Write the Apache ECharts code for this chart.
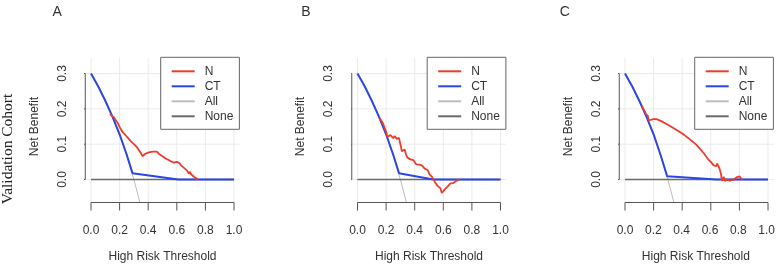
<!DOCTYPE html>
<html><head><meta charset="utf-8">
<script src="https://cdn.jsdelivr.net/npm/echarts@6/dist/echarts.min.js"></script>
<style>html,body{margin:0;padding:0;background:#fff}#c{width:778px;height:265px}</style>
</head><body><div id="c"></div><script>
// ---------- data ----------
const panelLabels = ['A', 'B', 'C'];
const seriesNames = ['N', 'CT', 'All', 'None'];
const xTicks = [0, 0.2, 0.4, 0.6, 0.8, 1.0];
const yTicks = [0, 0.1, 0.2, 0.3];

const allX = [0, 0.05, 0.1, 0.15, 0.2, 0.25, 0.3, 0.35];
const allY = [0.3, 0.263, 0.222, 0.176, 0.125, 0.067, 0.0, -0.077];
const noneX = [0, 1];
const noneY = [0, 0];

const ctX_A = [0, 0.05, 0.1, 0.15, 0.2, 0.25, 0.29, 0.61, 1.0];
const ctY_A = [0.3, 0.264, 0.223, 0.178, 0.128, 0.07, 0.018, 0, 0];
const ctX_B = [0, 0.05, 0.1, 0.15, 0.2, 0.25, 0.29, 0.53, 1.0];
const ctY_B = [0.3, 0.264, 0.223, 0.178, 0.128, 0.07, 0.018, 0, 0];
const ctX_C = [0, 0.05, 0.1, 0.15, 0.2, 0.25, 0.295, 0.64, 1.0];
const ctY_C = [0.3, 0.264, 0.223, 0.178, 0.128, 0.068, 0.009, 0, 0];

const nX_A = [0.133,0.145,0.16,0.17,0.18,0.19,0.2,0.21,0.22,0.23,0.24,0.25,0.26,0.27,0.28,0.29,0.3,0.31,0.32,0.33,0.34,0.35,0.36,0.37,0.38,0.39,0.4,0.41,0.42,0.43,0.44,0.45,0.46,0.47,0.48,0.49,0.5,0.51,0.52,0.53,0.54,0.55,0.56,0.57,0.58,0.59,0.6,0.61,0.62,0.63,0.64,0.65,0.66,0.67,0.68,0.685,0.69,0.7,0.71,0.72,0.73,0.74,0.75];
const nY_A = [0.187,0.18,0.176,0.17,0.165,0.158,0.148,0.142,0.135,0.13,0.126,0.122,0.117,0.112,0.108,0.104,0.1,0.097,0.092,0.087,0.08,0.074,0.066,0.07,0.073,0.072,0.076,0.075,0.078,0.077,0.079,0.077,0.079,0.074,0.071,0.068,0.066,0.064,0.06,0.058,0.056,0.053,0.051,0.05,0.048,0.047,0.05,0.049,0.046,0.04,0.036,0.033,0.03,0.026,0.022,0.016,0.022,0.015,0.012,0.008,0.004,0.002,0.0];

const nX_B = [0.155,0.17,0.18,0.19,0.2,0.205,0.21,0.22,0.23,0.24,0.25,0.26,0.27,0.275,0.28,0.29,0.295,0.3,0.31,0.32,0.33,0.34,0.35,0.36,0.37,0.38,0.39,0.4,0.41,0.42,0.43,0.44,0.45,0.46,0.47,0.48,0.49,0.5,0.505,0.51,0.52,0.53,0.54,0.55,0.56,0.57,0.58,0.59,0.595,0.6,0.61,0.62,0.63,0.64,0.65,0.66,0.67,0.68,0.69,0.7,0.71];
const nY_B = [0.173,0.165,0.157,0.146,0.136,0.128,0.121,0.12,0.126,0.122,0.117,0.123,0.125,0.115,0.113,0.118,0.121,0.1,0.08,0.082,0.085,0.07,0.062,0.058,0.057,0.057,0.055,0.052,0.043,0.042,0.042,0.041,0.04,0.035,0.031,0.029,0.027,0.022,0.014,0.012,0.008,0.003,-0.006,-0.01,-0.018,-0.02,-0.025,-0.038,-0.04,-0.033,-0.028,-0.025,-0.02,-0.018,-0.011,-0.011,-0.01,-0.011,-0.004,-0.002,0.0];

const nX_C = [0.12,0.125,0.13,0.135,0.14,0.145,0.15,0.155,0.16,0.165,0.17,0.18,0.19,0.2,0.21,0.22,0.25,0.3,0.35,0.4,0.45,0.5,0.55,0.58,0.6,0.62,0.63,0.64,0.645,0.65,0.66,0.665,0.67,0.675,0.68,0.685,0.69,0.695,0.7,0.71,0.715,0.72,0.73,0.74,0.745,0.75,0.76,0.77,0.78,0.79,0.8,0.81,0.815,0.82];
const nY_C = [0.208,0.205,0.198,0.194,0.192,0.186,0.183,0.185,0.18,0.168,0.169,0.169,0.17,0.171,0.172,0.171,0.166,0.155,0.143,0.13,0.115,0.098,0.075,0.058,0.05,0.04,0.035,0.038,0.045,0.04,0.032,0.03,0.018,0.005,-0.004,0.0,0.008,0.006,-0.004,-0.006,0.0,0.002,-0.003,-0.008,-0.002,0.0,0.0,0.0,0.006,0.008,0.009,0.008,0.002,0.0];

const ctX = [ctX_A, ctX_B, ctX_C], ctY = [ctY_A, ctY_B, ctY_C];
const nX = [nX_A, nX_B, nX_C], nY = [nY_A, nY_B, nY_C];

// ---------- layout ----------
const zip = (xs, ys) => xs.map((x, i) => [x, ys[i]]);
const W = 143;
const x0s = [91, 357.5, 625];
const plotTop = 57.6, plotBottom = 202.5;
const xMin = -0.04, xMax = 1.04, yMin = -0.065, yMax = 0.345;
const pxPerY = (plotBottom - plotTop) / (yMax - yMin);
const y03 = plotTop + (yMax - 0.3) * pxPerY;
const y00 = plotTop + (yMax - 0) * pxPerY;
const TICK = 8;
const FONT = 'Liberation Sans, Arial, sans-serif';
const RED = '#ee3b2c', BLUE = '#2c46e6', LGRAY = '#bdbdbd', DGRAY = '#6a6a6a', AX = '#555', GRIDC = '#ebebeb';

const grid = [], xAxis = [], yAxis = [], series = [], legend = [], graphic = [];
x0s.forEach((x0, p) => {
  // data grid (extended R plot region)
  grid.push({left: x0 + xMin * W, width: (xMax - xMin) * W, top: plotTop, height: plotBottom - plotTop, containLabel: false});
  xAxis.push({type: 'value', gridIndex: 2 * p, min: xMin, max: xMax, show: false});
  yAxis.push({type: 'value', gridIndex: 2 * p, min: yMin, max: yMax, show: false});
  // label grid (0..1, 0..0.3)
  grid.push({left: x0, width: W, top: y03, height: y00 - y03, containLabel: false});
  xAxis.push({type: 'value', gridIndex: 2 * p + 1, min: 0, max: 1, interval: 0.2, offset: plotBottom - y00, position: 'bottom',
    axisLine: {show: false}, axisTick: {show: false}, splitLine: {show: false},
    axisLabel: {color: '#333', fontFamily: FONT, fontSize: 12, margin: 22, formatter: v => v.toFixed(1)},
    name: 'High Risk Threshold', nameLocation: 'middle', nameGap: 48,
    nameTextStyle: {color: '#333', fontFamily: FONT, fontSize: 12}});
  yAxis.push({type: 'value', gridIndex: 2 * p + 1, min: 0, max: 0.3, interval: 0.1, offset: -xMin * W, position: 'left',
    axisLine: {show: false}, axisTick: {show: false}, splitLine: {show: false},
    axisLabel: {color: '#333', fontFamily: FONT, fontSize: 12, rotate: 90, margin: 17, formatter: v => v.toFixed(1)},
    name: 'Net Benefit', nameLocation: 'middle', nameGap: 45, nameRotate: 90,
    nameTextStyle: {color: '#333', fontFamily: FONT, fontSize: 12}});

  const xi = 2 * p, yi = 2 * p;
  const common = {type: 'line', xAxisIndex: xi, yAxisIndex: yi, symbol: 'none', showSymbol: false, clip: true, silent: true, animation: false};
  const axisLS = {color: AX, width: 1};
  // background grid lines at tick positions
  xTicks.forEach(v => series.push(Object.assign({}, common, {data: [[v, yMin], [v, yMax]], z: 1, lineStyle: {color: GRIDC, width: 1}})));
  yTicks.forEach(v => series.push(Object.assign({}, common, {data: [[xMin, v], [xMax, v]], z: 1, lineStyle: {color: GRIDC, width: 1}})));
  // R-style axes: line from first to last tick, ticks pointing outward
  const tx = TICK / W, ty = TICK / pxPerY;
  series.push(Object.assign({}, common, {clip: false, z: 6, lineStyle: axisLS, data: [[xTicks[0], yMin], [xTicks[xTicks.length - 1], yMin]]}));
  series.push(Object.assign({}, common, {clip: false, z: 6, lineStyle: axisLS, data: [[xMin, yTicks[0]], [xMin, yTicks[yTicks.length - 1]]]}));
  xTicks.forEach(v => series.push(Object.assign({}, common, {clip: false, z: 6, lineStyle: axisLS, data: [[v, yMin], [v, yMin - ty]]})));
  yTicks.forEach(v => series.push(Object.assign({}, common, {clip: false, z: 6, lineStyle: axisLS, data: [[xMin, v], [xMin - tx, v]]})));

  series.push(Object.assign({}, common, {name: 'All', data: zip(allX, allY), z: 2, lineStyle: {color: LGRAY, width: 1}, itemStyle: {color: LGRAY}}));
  series.push(Object.assign({}, common, {name: 'None', data: zip(noneX, noneY), z: 3, lineStyle: {color: DGRAY, width: 1.6}, itemStyle: {color: DGRAY}}));
  series.push(Object.assign({}, common, {name: 'CT', data: zip(ctX[p], ctY[p]), z: 4, lineStyle: {color: BLUE, width: 2}, itemStyle: {color: BLUE}}));
  series.push(Object.assign({}, common, {name: 'N', data: zip(nX[p], nY[p]), z: 5, lineStyle: {color: RED, width: 1.8}, itemStyle: {color: RED}}));

  legend.push({data: seriesNames, orient: 'vertical', left: x0 + 69.7, top: 57.3,
    backgroundColor: '#fff', borderColor: '#666', borderWidth: 1, borderRadius: 0,
    padding: [7, 6, 6, 11], itemGap: 1, itemWidth: 23, itemHeight: 2, icon: 'rect', selectedMode: false,
    textStyle: {color: '#333', fontFamily: FONT, fontSize: 12, lineHeight: 14, padding: [0, 0, 0, 5]}, z: 10});

  graphic.push({type: 'text', x: [57.2, 305.8, 564.7][p], y: 12.3, style: {text: panelLabels[p], font: '14px ' + FONT, fill: '#333', textAlign: 'center', textVerticalAlign: 'middle'}});
});
graphic.push({type: 'text', x: 7.5, y: 149, rotation: Math.PI / 2,
  style: {text: 'Validation Cohort', font: '15.5px "Liberation Serif", "Times New Roman", serif', fill: '#222', textAlign: 'center', textVerticalAlign: 'middle'}});

const chart = echarts.init(document.getElementById('c'), null, {renderer: 'canvas'});
chart.setOption({animation: false, backgroundColor: '#fff', grid, xAxis, yAxis, series, legend, graphic});
</script></body></html>
